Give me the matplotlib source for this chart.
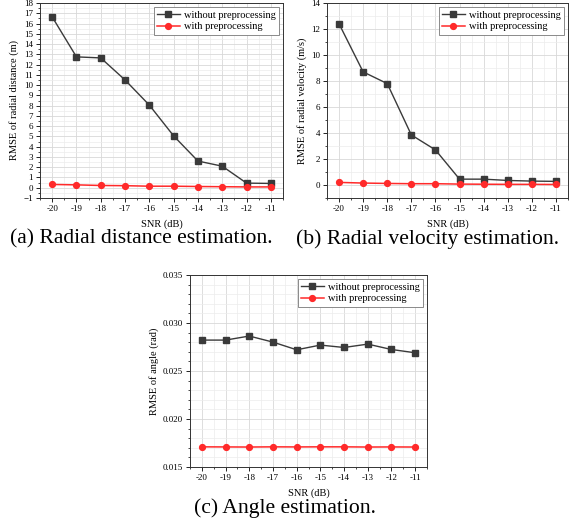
import numpy as np
import matplotlib.pyplot as plt
from matplotlib.ticker import MultipleLocator

plt.rcParams['font.family'] = ['Liberation Serif', 'DejaVu Serif']

snr = [-20, -19, -18, -17, -16, -15, -14, -13, -12, -11]

dist_without = [16.65, 12.75, 12.65, 10.5, 8.05, 5.05, 2.6, 2.1, 0.45, 0.42]
dist_with = [0.32, 0.28, 0.22, 0.2, 0.15, 0.15, 0.12, 0.1, 0.08, 0.08]

vel_without = [12.4, 8.7, 7.8, 3.85, 2.7, 0.45, 0.45, 0.35, 0.3, 0.28]
vel_with = [0.2, 0.15, 0.12, 0.1, 0.1, 0.07, 0.06, 0.05, 0.05, 0.04]

ang_without = [0.02822, 0.02822, 0.02864, 0.02801, 0.02721, 0.02770, 0.02745, 0.02780, 0.02724, 0.02690]
ang_with = [0.01710, 0.01709, 0.01708, 0.01710, 0.01709, 0.01710, 0.01710, 0.01708, 0.01709, 0.01708]

W, H = 574, 524
fig = plt.figure(figsize=(W / 100, H / 100), dpi=100)


def px_axes(l, t, r, b):
    return fig.add_axes([l / W, 1 - b / H, (r - l) / W, (b - t) / H])


def style(ax, without, with_, ylabel, ylim, ymajor, yminor):
    ax.plot(snr, without, color='#3a3a3a', lw=1.0, marker='s', ms=4.2,
            label='without preprocessing', zorder=3)
    ax.plot(snr, with_, color='#ff2a2a', lw=1.1, marker='o', ms=4.2,
            label='with preprocessing', zorder=3)
    ax.set_xlim(-20.5, -10.5)
    ax.set_ylim(*ylim)
    ax.set_xticks(snr)
    ax.set_xticklabels([str(s) for s in snr])
    ax.xaxis.set_minor_locator(MultipleLocator(0.5))
    ax.yaxis.set_major_locator(MultipleLocator(ymajor))
    ax.yaxis.set_minor_locator(MultipleLocator(yminor))
    ax.grid(which='major', color='#d8d8d8', lw=0.6)
    ax.grid(which='minor', color='#ececec', lw=0.5)
    ax.tick_params(which='major', direction='out', length=3, width=0.6,
                   labelsize=6.5, pad=2)
    ax.tick_params(which='minor', direction='out', length=1.5, width=0.5)
    for s in ax.spines.values():
        s.set_linewidth(0.7)
        s.set_color('#333333')
    ax.set_xlabel('SNR (dB)', fontsize=7.5, labelpad=5)
    ax.set_ylabel(ylabel, fontsize=7.5, labelpad=3)
    leg = ax.legend(loc='upper right', fontsize=7.5, fancybox=False,
                    framealpha=1, edgecolor='#777777', handlelength=2.2,
                    borderpad=0.3, labelspacing=0.25, handletextpad=0.4,
                    borderaxespad=0.4)
    leg.get_frame().set_linewidth(0.6)


ax1 = px_axes(40, 3, 283, 198)
style(ax1, dist_without, dist_with, 'RMSE of radial distance (m)', (-1, 18), 1, 0.5)

ax2 = px_axes(327, 3, 568, 198)
style(ax2, vel_without, vel_with, 'RMSE of radial velocity (m/s)', (-1, 14), 2, 1)

ax3 = px_axes(190, 275, 427, 467)
style(ax3, ang_without, ang_with, 'RMSE of angle (rad)', (0.015, 0.035), 0.005, 0.001)
ax3.yaxis.set_major_formatter(plt.FormatStrFormatter('%.3f'))

fig.text(141 / W, 1 - 239 / H, '(a) Radial distance estimation.', ha='center', va='center', fontsize=15.6)
fig.text(428 / W, 1 - 239 / H, '(b) Radial velocity estimation.', ha='center', va='center', fontsize=15.6)
fig.text(285 / W, 1 - 508 / H, '(c) Angle estimation.', ha='center', va='center', fontsize=15.6)

fig.savefig('out.png', dpi=100)
